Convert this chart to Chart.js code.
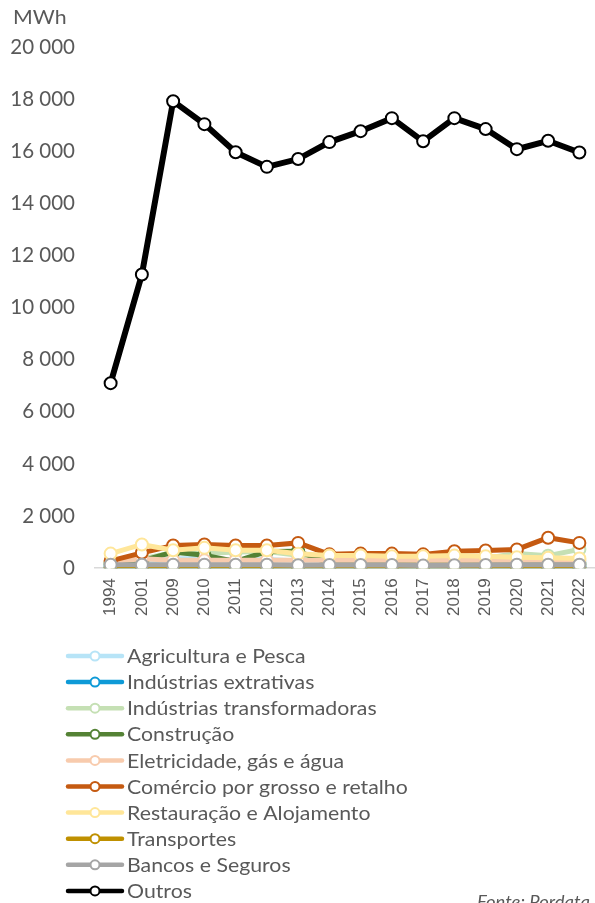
<!DOCTYPE html>
<html>
<head>
<meta charset="utf-8">
<script src="https://cdn.jsdelivr.net/npm/chart.js@4/dist/chart.umd.min.js"></script>
<style>
  html, body { margin: 0; padding: 0; background: #fff; }
  #wrap { width: 595px; height: 903px; position: relative; }
</style>
</head>
<body>
<div id="wrap"><canvas id="grafico"></canvas></div>
<script>
// anos
const anos = ['1994', '2001', '2009', '2010', '2011', '2012', '2013', '2014',
              '2015', '2016', '2017', '2018', '2019', '2020', '2021', '2022'];

// consumo por sector, MWh
const agricultura     = [150, 250, 350, 380, 300, 330, 280, 250, 250, 250, 250, 250, 250, 250, 250, 250];
const extrativas      = [60, 60, 60, 60, 60, 60, 60, 60, 60, 60, 60, 60, 60, 60, 60, 60];
const transformadoras = [250, 350, 600, 560, 620, 640, 500, 400, 400, 380, 370, 380, 380, 560, 480, 720];
const construcao      = [150, 280, 620, 500, 260, 640, 650, 180, 150, 150, 150, 150, 150, 150, 150, 150];
const eletricidade    = [260, 360, 300, 300, 300, 300, 300, 300, 300, 300, 300, 300, 300, 300, 300, 300];
const comercio        = [280, 590, 870, 910, 870, 870, 970, 530, 560, 560, 530, 650, 680, 720, 1170, 970];
const restauracao     = [560, 910, 690, 780, 690, 690, 550, 490, 490, 460, 460, 490, 460, 420, 400, 370];
const transportes     = [20, 20, 20, 20, 20, 20, 20, 20, 20, 20, 20, 20, 20, 20, 20, 20];
const bancos          = [130, 130, 130, 130, 130, 130, 110, 120, 120, 120, 100, 110, 120, 130, 130, 130];
const outros          = [7100, 11270, 17920, 17040, 15960, 15400, 15700, 16350, 16770, 17270, 16380, 17270, 16850, 16080, 16400, 15950];

const sectores = ['Agricultura e Pesca', 'Indústrias extrativas', 'Indústrias transformadoras',
                  'Construção', 'Eletricidade, gás e água', 'Comércio por grosso e retalho',
                  'Restauração e Alojamento', 'Transportes', 'Bancos e Seguros', 'Outros'];
const series = [agricultura, extrativas, transformadoras, construcao, eletricidade,
                comercio, restauracao, transportes, bancos, outros];
const cores = ['#b7e4f7', '#0e9ad7', '#c5e0b4', '#548235', '#f8cbad',
               '#c55a11', '#ffe699', '#bf9000', '#a5a5a5', '#000000'];

const cinza = '#595959';

const datasets = series.map((d, i) => ({
  label: sectores[i],
  data: d,
  borderColor: cores[i],
  backgroundColor: '#ffffff',
  borderWidth: i === 9 ? 6 : 5,
  pointRadius: 6,
  pointBorderWidth: 2,
  pointBackgroundColor: '#ffffff',
  pointBorderColor: cores[i],
  tension: 0,
  order: 9 - i   // as últimas séries ficam por cima
}));

const fmt = v => String(v).replace(/\B(?=(\d{3})+(?!\d))/g, ' ');

// texto um pouco mais largo, como no original
function texto(ctx, s, x, y, esc) {
  ctx.save();
  ctx.translate(x, y);
  ctx.scale(esc, 1);
  ctx.fillText(s, 0, 0);
  ctx.restore();
}

// legenda numa coluna, título do eixo e fonte
const extras = {
  id: 'extras',
  afterDraw(chart) {
    const ctx = chart.ctx;
    ctx.save();
    ctx.fillStyle = cinza;
    ctx.textAlign = 'left';
    ctx.textBaseline = 'top';
    ctx.font = '19px Lato';
    texto(ctx, 'MWh', 13, 8, 1.12);

    const y0 = 656, dy = 26.1;
    chart.data.datasets.forEach((ds, i) => {
      const y = y0 + i * dy;
      ctx.strokeStyle = ds.borderColor;
      ctx.lineWidth = 4.5;
      ctx.lineCap = 'round';
      ctx.beginPath();
      ctx.moveTo(68, y);
      ctx.lineTo(122, y);
      ctx.stroke();
      ctx.beginPath();
      ctx.arc(95, y, 4.5, 0, Math.PI * 2);
      ctx.fillStyle = '#ffffff';
      ctx.fill();
      ctx.lineWidth = 2;
      ctx.stroke();
      ctx.fillStyle = cinza;
      ctx.font = '19px Lato';
      ctx.textBaseline = 'middle';
      texto(ctx, ds.label, 127, y + 1, 1.12);
    });

    ctx.font = 'italic 16.5px Lato';
    ctx.textBaseline = 'top';
    texto(ctx, 'Fonte: Pordata', 477, 894, 1.12);
    ctx.restore();
  }
};

new Chart(document.getElementById('grafico'), {
  type: 'line',
  data: { labels: anos, datasets: datasets },
  options: {
    responsive: true,
    maintainAspectRatio: false,
    animation: false,
    layout: { autoPadding: false, padding: { top: 47, left: 0, right: 0, bottom: 277 } },
    plugins: {
      legend: { display: false },
      tooltip: { enabled: false }
    },
    scales: {
      x: {
        offset: true,
        grid: { display: false, drawTicks: false },
        border: { display: true, color: '#d9d9d9', width: 1.5 },
        ticks: {
          color: cinza,
          font: { family: 'Liberation Sans', size: 17 },
          minRotation: 90,
          maxRotation: 90,
          padding: 10
        },
        afterFit(s) { s.paddingLeft = 0; s.paddingRight = 0; }
      },
      y: {
        min: 0,
        max: 20000,
        grid: { display: false, drawTicks: false },
        border: { display: false },
        ticks: {
          stepSize: 2000,
          color: cinza,
          font: { family: 'Lato', size: 20.5 },
          padding: 20,
          callback: v => fmt(v)
        },
        afterFit(s) { s.width = 95; s.paddingTop = 0; s.paddingBottom = 0; }
      }
    }
  },
  plugins: [extras]
});
</script>
</body>
</html>
